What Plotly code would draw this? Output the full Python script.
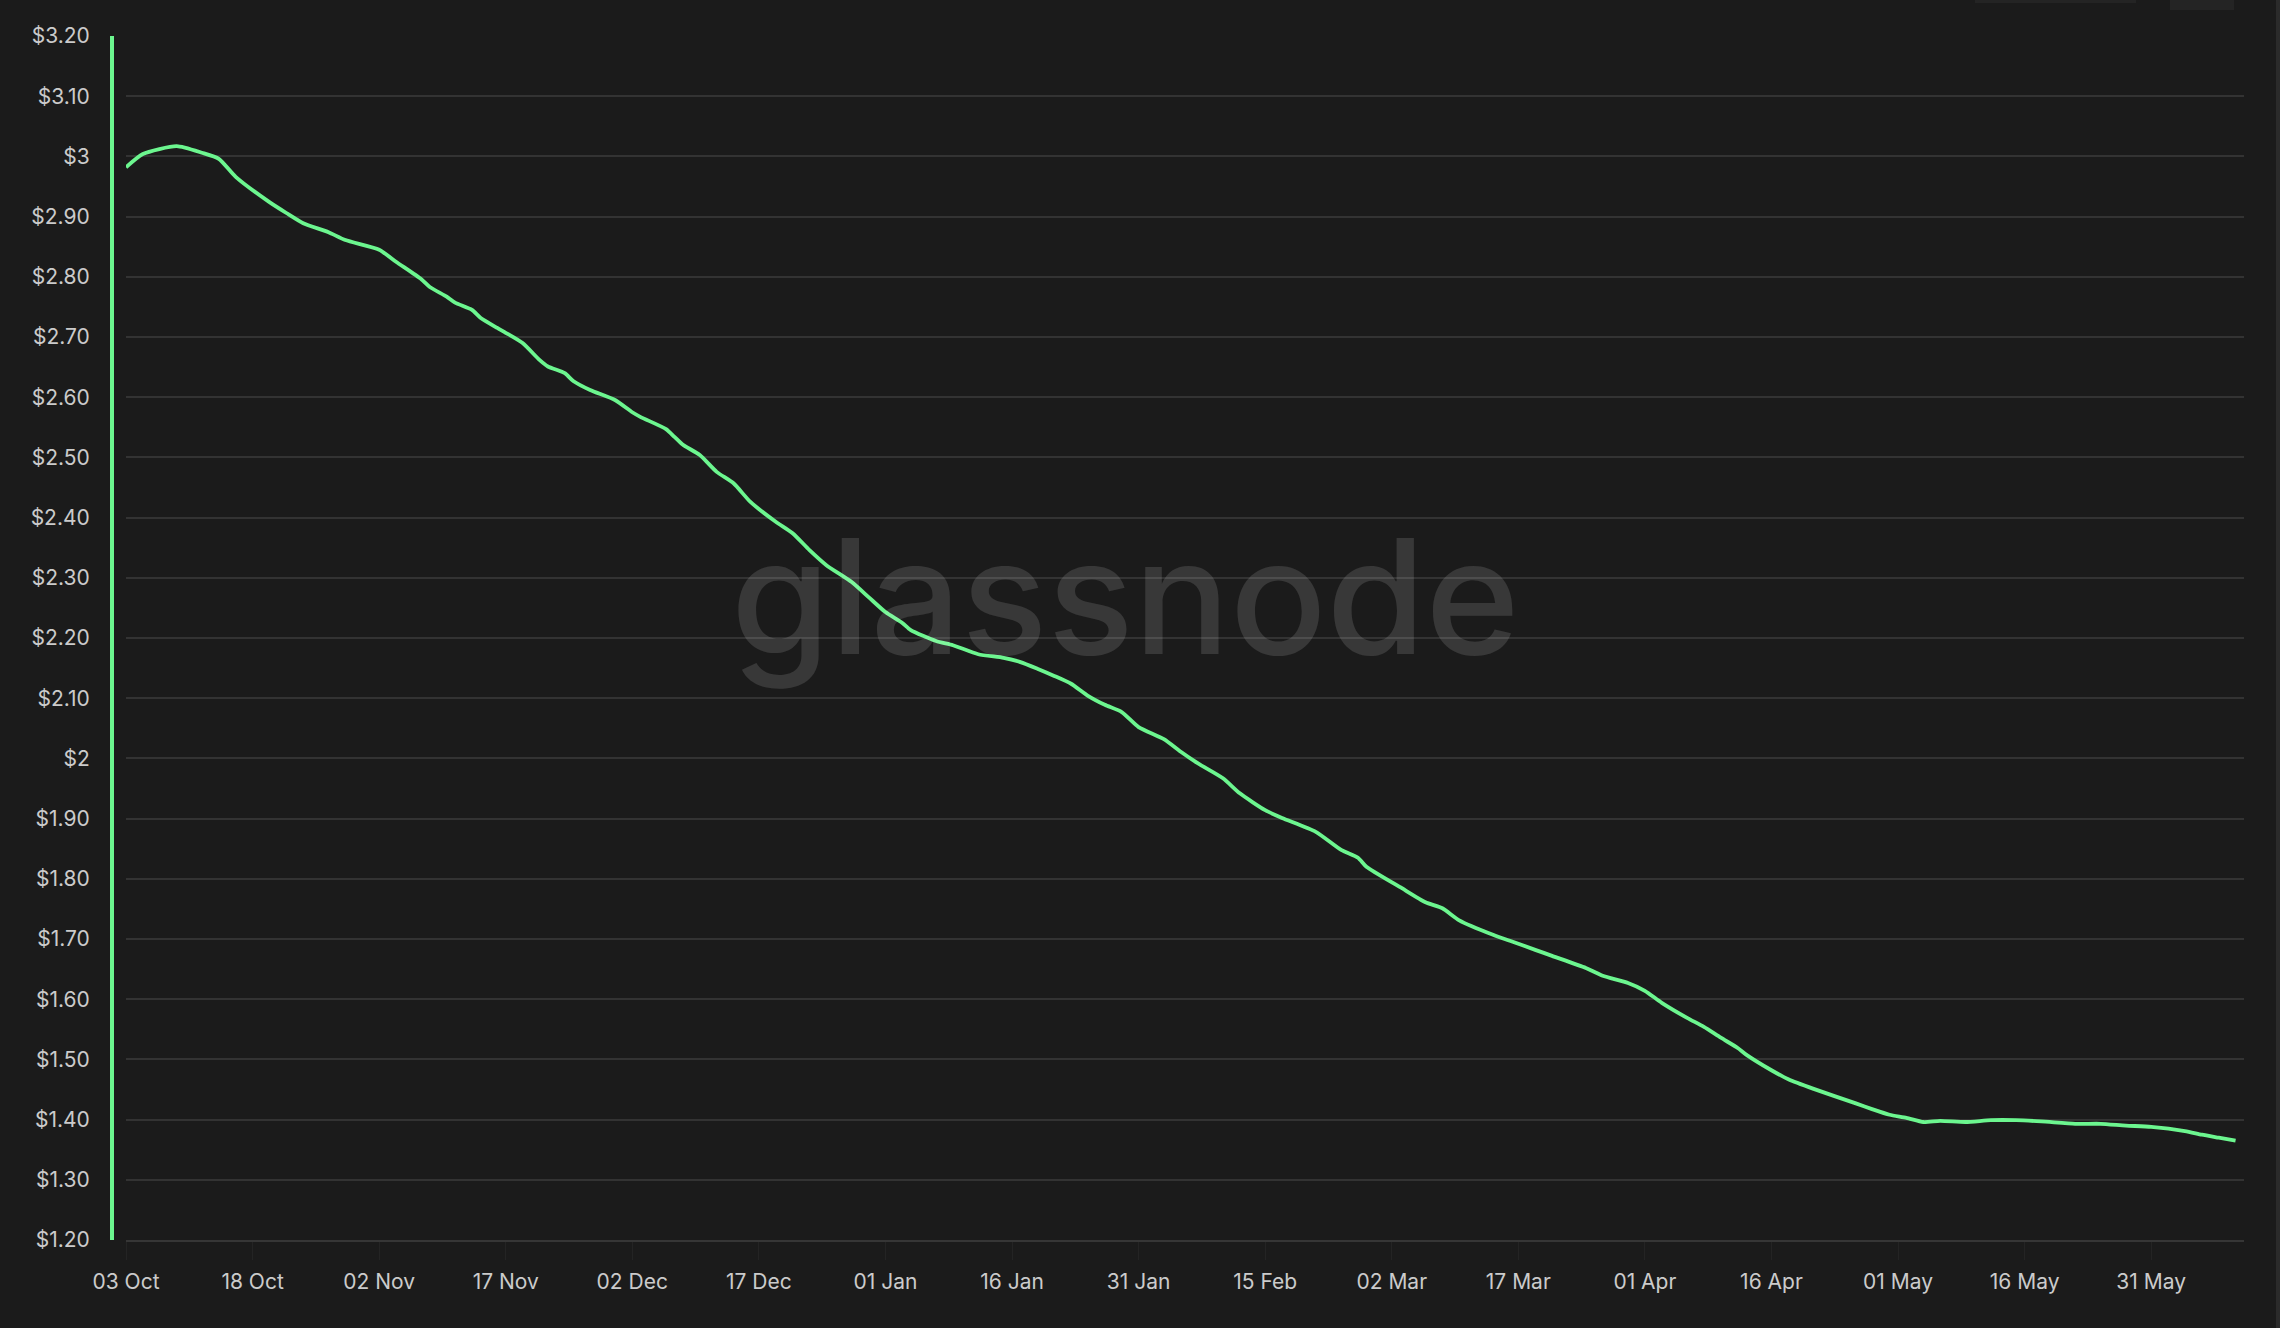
import plotly.graph_objects as go

# ---- data ----
dates = [
    "2022-10-03", "2022-10-05", "2022-10-09", "2022-10-12", "2022-10-14", "2022-10-16",
    "2022-10-20", "2022-10-22", "2022-10-24", "2022-10-27", "2022-10-29", "2022-11-02",
    "2022-11-04", "2022-11-07", "2022-11-08", "2022-11-10", "2022-11-11", "2022-11-13",
    "2022-11-14", "2022-11-16", "2022-11-17", "2022-11-19", "2022-11-21", "2022-11-22",
    "2022-11-24", "2022-11-25", "2022-11-27", "2022-11-30", "2022-12-02", "2022-12-03",
    "2022-12-06", "2022-12-07", "2022-12-08", "2022-12-10", "2022-12-12", "2022-12-14",
    "2022-12-16", "2022-12-19", "2022-12-21", "2022-12-23", "2022-12-25", "2022-12-28",
    "2022-12-30", "2023-01-01", "2023-01-03", "2023-01-04", "2023-01-07", "2023-01-09",
    "2023-01-12", "2023-01-15", "2023-01-17", "2023-01-19", "2023-01-21", "2023-01-23",
    "2023-01-25", "2023-01-27", "2023-01-29", "2023-01-31", "2023-02-03", "2023-02-05",
    "2023-02-07", "2023-02-10", "2023-02-12", "2023-02-15", "2023-02-17", "2023-02-21",
    "2023-02-24", "2023-02-26", "2023-02-27", "2023-03-03", "2023-03-06", "2023-03-08",
    "2023-03-10", "2023-03-14", "2023-03-16", "2023-03-19", "2023-03-21", "2023-03-25",
    "2023-03-27", "2023-03-30", "2023-04-01", "2023-04-03", "2023-04-06", "2023-04-08",
    "2023-04-10", "2023-04-12", "2023-04-13", "2023-04-16", "2023-04-18", "2023-04-21",
    "2023-04-26", "2023-04-28", "2023-04-30", "2023-05-02", "2023-05-04", "2023-05-06",
    "2023-05-09", "2023-05-12", "2023-05-15", "2023-05-18", "2023-05-22", "2023-05-25",
    "2023-05-28", "2023-05-31", "2023-06-04", "2023-06-06", "2023-06-08", "2023-06-10",
]
values = [
    2.982, 3.004, 3.017, 3.006, 2.996, 2.966,
    2.924, 2.906, 2.889, 2.874, 2.861, 2.845,
    2.825, 2.796, 2.783, 2.767, 2.757, 2.745,
    2.732, 2.715, 2.707, 2.690, 2.662, 2.651,
    2.640, 2.627, 2.612, 2.595, 2.575, 2.567,
    2.547, 2.534, 2.521, 2.504, 2.476, 2.457,
    2.426, 2.393, 2.374, 2.346, 2.321, 2.293,
    2.268, 2.243, 2.225, 2.213, 2.195, 2.188,
    2.173, 2.167, 2.160, 2.149, 2.137, 2.124,
    2.104, 2.089, 2.077, 2.052, 2.032, 2.011,
    1.992, 1.967, 1.942, 1.914, 1.901, 1.878,
    1.848, 1.835, 1.820, 1.786, 1.761, 1.751,
    1.731, 1.707, 1.697, 1.682, 1.672, 1.652,
    1.639, 1.627, 1.614, 1.594, 1.569, 1.554,
    1.536, 1.519, 1.508, 1.482, 1.467, 1.451,
    1.427, 1.417, 1.408, 1.403, 1.396, 1.398,
    1.396, 1.399, 1.399, 1.397, 1.393, 1.393,
    1.390, 1.388, 1.381, 1.375, 1.370, 1.365,
]

y_tickvals = [1.2, 1.3, 1.4, 1.5, 1.6, 1.7, 1.8, 1.9, 2.0, 2.1,
              2.2, 2.3, 2.4, 2.5, 2.6, 2.7, 2.8, 2.9, 3.0, 3.1, 3.2]
y_ticktext = ["$1.20", "$1.30", "$1.40", "$1.50", "$1.60", "$1.70", "$1.80",
              "$1.90", "$2", "$2.10", "$2.20", "$2.30", "$2.40", "$2.50",
              "$2.60", "$2.70", "$2.80", "$2.90", "$3", "$3.10", "$3.20"]
x_range = ["2022-10-03", "2023-06-11"]
x_tick0 = "2022-10-03"

# ---- style ----
BG = "#1b1b1b"
GREEN = "#6cf68f"
GRID = "#333333"
TEXT = "#cbcbcb"
FONT = "Inter"

W, H = 2280, 1328
ML, MR, MT, MB = 0, 36, 36, 88
PW = W - ML - MR
PH = H - MT - MB
x_dom0 = 126 / PW
y_pos = 112 / PW

fig = go.Figure()
fig.add_trace(go.Scatter(
    x=dates, y=values, mode="lines",
    line=dict(color=GREEN, width=3.8, shape="spline", smoothing=0.6),
    hoverinfo="skip", showlegend=False,
))

fig.update_layout(
    width=W, height=H,
    margin=dict(l=ML, r=MR, t=MT, b=MB, autoexpand=False),
    paper_bgcolor=BG, plot_bgcolor=BG,
    font=dict(family=FONT, color=TEXT, size=21),
    showlegend=False,
    xaxis=dict(
        domain=[x_dom0, 1],
        type="date",
        range=x_range,
        tick0=x_tick0,
        dtick=15 * 86400000,
        tickformat="%d %b",
        ticks="outside", ticklen=18, tickwidth=1, tickcolor="#242424",
        ticklabelstandoff=4,
        showgrid=False, zeroline=False,
        showline=True, linecolor="#363636", linewidth=2,
        automargin=False,
        tickfont=dict(family=FONT, color=TEXT, size=21),
    ),
    yaxis=dict(
        range=[1.2, 3.2],
        anchor="free", position=y_pos,
        tickvals=y_tickvals, ticktext=y_ticktext,
        showgrid=True, gridcolor=GRID, gridwidth=1.6,
        zeroline=False,
        showline=True, linecolor=GREEN, linewidth=4,
        ticks="", ticklabelstandoff=16,
        automargin=False,
        tickfont=dict(family=FONT, color=TEXT, size=21),
    ),
    annotations=[dict(
        text="glassnode", xref="paper", yref="paper",
        x=1125 / PW, y=0.535, xanchor="center", yanchor="middle",
        showarrow=False,
        font=dict(family=FONT, size=160, color="rgba(255,255,255,0.13)", weight=500),
    )],
    shapes=[
        dict(type="rect", xref="paper", yref="paper",
             x0=1975 / PW, x1=2136 / PW, y0=(H - MB - 3) / PH, y1=1.04,
             fillcolor="#242424", line=dict(width=0), layer="above"),
        dict(type="rect", xref="paper", yref="paper",
             x0=2170 / PW, x1=2234 / PW, y0=(H - MB - 10) / PH, y1=1.04,
             fillcolor="#242424", line=dict(width=0), layer="above"),
        dict(type="rect", xref="paper", yref="paper",
             x0=2276 / PW, x1=2282 / PW, y0=-0.1, y1=1.1,
             fillcolor="#2b2b2b", line=dict(width=0), layer="above"),
    ],
)

fig.write_html(
    "out.html",
    config=dict(displayModeBar=False),
    post_script="document.body.style.margin='0';document.body.style.background='#1b1b1b';document.body.style.overflow='hidden';",
)
